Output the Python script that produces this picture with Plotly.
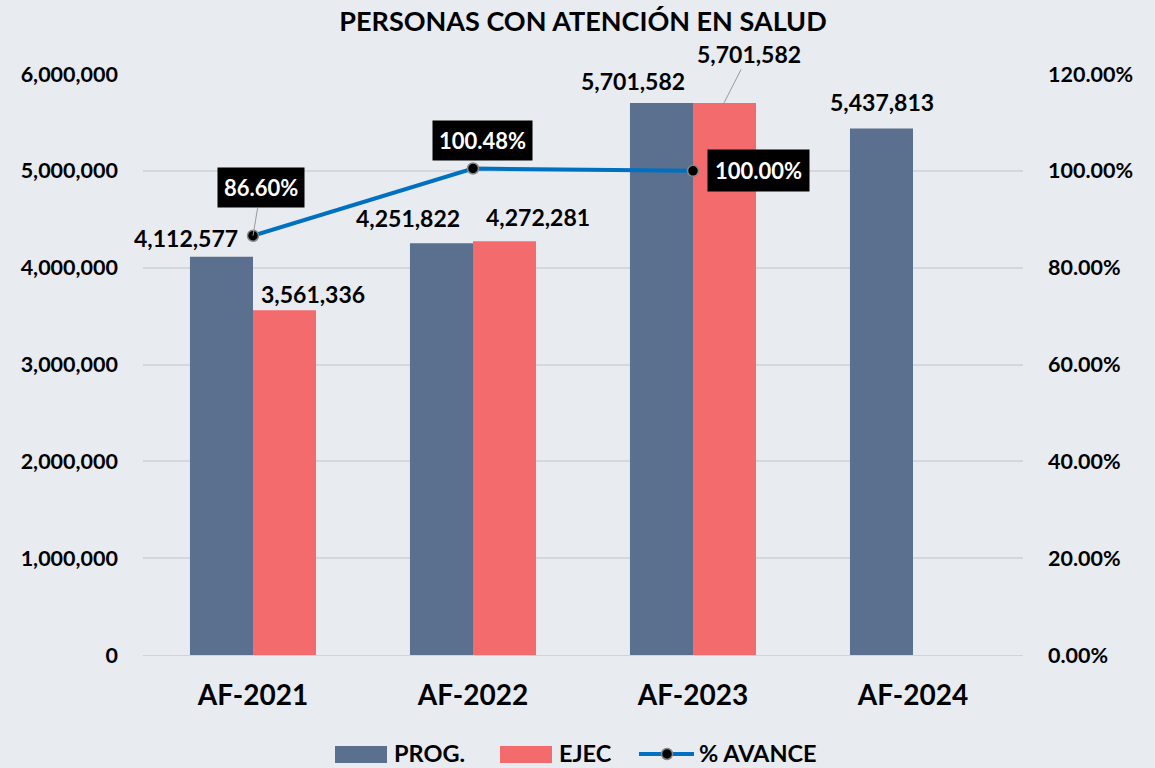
import plotly.graph_objects as go

categories = ["AF-2021", "AF-2022", "AF-2023", "AF-2024"]
prog = [4112577, 4251822, 5701582, 5437813]
ejec = [3561336, 4272281, 5701582, None]
avance = [0.8660, 1.0048, 1.0000]
avance_cats = categories[:3]
series_names = ["PROG.", "EJEC", "% AVANCE"]

FONT = "Lato"
BG = "#E8EBF0"
C_PROG = "#5B6F8E"
C_EJEC = "#F36B6D"
C_LINE = "#0070C0"

fig = go.Figure()
fig.add_trace(go.Bar(x=categories, y=prog, name=series_names[0], marker_color=C_PROG,
                     marker_line_width=0))
fig.add_trace(go.Bar(x=categories, y=ejec, name=series_names[1], marker_color=C_EJEC,
                     marker_line_width=0))
fig.add_trace(go.Scatter(x=avance_cats, y=avance, name=series_names[2], yaxis="y2",
                         mode="lines+markers",
                         line=dict(color=C_LINE, width=4),
                         marker=dict(color="black", size=11,
                                     line=dict(color="#888888", width=1.5))))

lab_font = dict(family=FONT, size=23, color="black", weight="bold")

# PROG labels: pixel offsets from category centre / bar top
prog_shift = [(-67, 19), (-65, 25), (-60, 22), (-31, 26)]
for c, v, (dx, dy) in zip(categories, prog, prog_shift):
    fig.add_annotation(x=c, y=v, xref="x", yref="y", text=f"{v:,}",
                       showarrow=False, xshift=dx, yshift=dy, font=lab_font)

# EJEC labels
ej_shift = [(60, 16), (65, 24)]
for c, v, (dx, dy) in zip(categories[:2], ejec[:2], ej_shift):
    fig.add_annotation(x=c, y=v, xref="x", yref="y", text=f"{v:,}",
                       showarrow=False, xshift=dx, yshift=dy, font=lab_font)
fig.add_annotation(x=categories[2], y=ejec[2], xref="x", yref="y",
                   text=f"{ejec[2]:,}", showarrow=True, arrowhead=0,
                   arrowwidth=1, arrowcolor="#9A9A9A", ax=25, ay=-49,
                   xshift=31, font=lab_font)

# percentage labels
box_font = dict(family=FONT, size=22, color="white", weight="bold")
fig.add_annotation(x=avance_cats[0], y=avance[0], xref="x", yref="y2",
                   text=f"{avance[0]*100:.2f}%", showarrow=True, arrowhead=0,
                   arrowwidth=1, arrowcolor="#9A9A9A", ax=8, ay=-48,
                   bgcolor="black", borderpad=6, font=box_font)
fig.add_annotation(x=avance_cats[1], y=avance[1], xref="x", yref="y2",
                   text=f"{avance[1]*100:.2f}%", showarrow=False,
                   xshift=9, yshift=28,
                   bgcolor="black", borderpad=6, font=box_font)
fig.add_annotation(x=avance_cats[2], y=avance[2], xref="x", yref="y2",
                   text=f"{avance[2]*100:.2f}%", showarrow=False,
                   xshift=65, yshift=0,
                   bgcolor="black", borderpad=7, font=box_font)

# ---- legend drawn at the bottom (paper coordinates) ----
L, R, T, B = 143, 132, 74, 113
PW, PH = 1155 - L - R, 768 - T - B


def px(x):
    return (x - L) / PW


def py(y):
    return (768 - B - y) / PH


leg_font = dict(family=FONT, size=23.5, color="black", weight="bold")
LEG_Y = 753
for (x0, x1, col, tx, name) in [(335, 387, C_PROG, 393, series_names[0]),
                                (500, 552, C_EJEC, 558, series_names[1])]:
    fig.add_shape(type="rect", xref="paper", yref="paper",
                  x0=px(x0), x1=px(x1), y0=py(763), y1=py(746),
                  fillcolor=col, line_width=0, layer="above")
    fig.add_annotation(xref="paper", yref="paper", x=px(tx), y=py(LEG_Y),
                       xanchor="left", yanchor="middle", text=name,
                       showarrow=False, font=leg_font, borderpad=0)
fig.add_shape(type="line", xref="paper", yref="paper",
              x0=px(639), x1=px(694), y0=py(754), y1=py(754),
              line=dict(color=C_LINE, width=4), layer="above")
fig.add_shape(type="circle", xref="paper", yref="paper",
              x0=px(661.5), x1=px(672.5), y0=py(759.5), y1=py(748.5),
              fillcolor="black", line=dict(color="#888888", width=1.5),
              layer="above")
fig.add_annotation(xref="paper", yref="paper", x=px(698), y=py(LEG_Y),
                   xanchor="left", yanchor="middle", text=series_names[2],
                   showarrow=False, font=leg_font, borderpad=0)

fig.update_layout(
    width=1155, height=768,
    paper_bgcolor=BG, plot_bgcolor=BG,
    margin=dict(l=L, r=R, t=T, b=B, autoexpand=False),
    barmode="group", bargap=0.427, bargroupgap=0,
    title=dict(text="PERSONAS CON ATENCIÓN EN SALUD", x=0.5, xanchor="center",
               xref="paper", y=1 - 22 / 768, yanchor="middle",
               font=dict(family=FONT, size=27, color="black", weight="bold")),
    font=dict(family=FONT, color="black"),
    xaxis=dict(range=[-0.5, 3.5],
               tickfont=dict(family=FONT, size=28, color="black", weight="bold"),
               showgrid=False, showline=True, linecolor="#D0D3D8", linewidth=1,
               ticks="", ticklabelstandoff=15, automargin=False),
    yaxis=dict(range=[0, 6000000], dtick=1000000, tickformat=",d",
               tickfont=dict(family=FONT, size=21.5, color="black", weight="bold"),
               gridcolor="#D4D7DC", gridwidth=1.5, zeroline=False,
               ticklabelstandoff=24, automargin=False),
    yaxis2=dict(range=[0, 1.2], dtick=0.2, tickformat=".2%", overlaying="y",
                side="right", showgrid=False, zeroline=False,
                tickfont=dict(family=FONT, size=21.5, color="black", weight="bold"),
                ticklabelstandoff=24, automargin=False),
    showlegend=False,
)

fig.write_html("out.html", config={"displayModeBar": False},
               post_script="document.body.style.margin='0';document.body.style.overflow='hidden';")
